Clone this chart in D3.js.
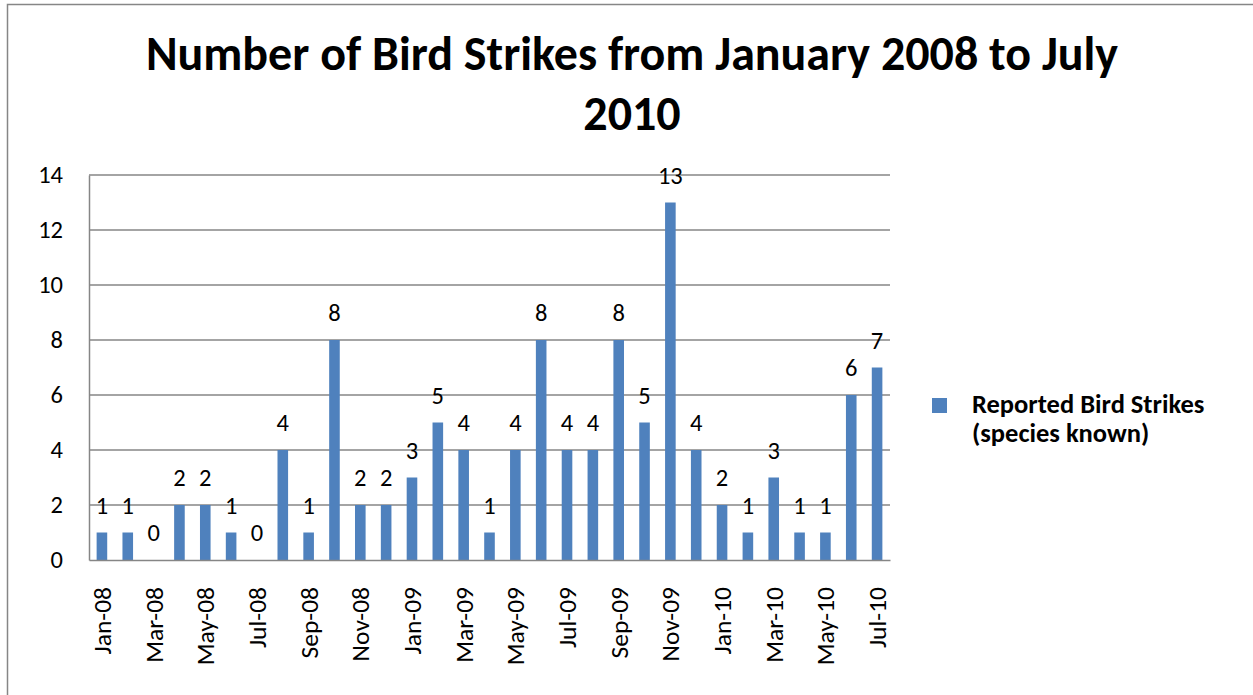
<!DOCTYPE html>
<html>
<head>
<meta charset="utf-8">
<script src="https://cdn.jsdelivr.net/npm/d3@7"></script>
<style>
  body { margin: 0; background: #fff; }
  text { font-family: Calibri, Carlito, Lato, sans-serif; }
</style>
</head>
<body>
<div id="chart"></div>
<script>
var months = ["Jan-08","Feb-08","Mar-08","Apr-08","May-08","Jun-08","Jul-08","Aug-08","Sep-08","Oct-08","Nov-08","Dec-08",
  "Jan-09","Feb-09","Mar-09","Apr-09","May-09","Jun-09","Jul-09","Aug-09","Sep-09","Oct-09","Nov-09","Dec-09",
  "Jan-10","Feb-10","Mar-10","Apr-10","May-10","Jun-10","Jul-10"];
var strikes = [1,1,0,2,2,1,0,4,1,8,2,2, 3,5,4,1,4,8,4,4,8,5,13,4, 2,1,3,1,1,6,7];
var yTicks = [0,2,4,6,8,10,12,14];
var titleLines = ["Number of Bird Strikes from January 2008 to July", "2010"];
var legendLines = ["Reported Bird Strikes", "(species known)"];

var width = 1253, height = 695;
var plotLeft = 89, plotRight = 890, plotTop = 175, plotBottom = 560;
var fontFam = 'Calibri, Carlito, Lato, sans-serif';
var svg = d3.select('#chart').append('svg').attr('width', width).attr('height', height);

// chart frame
svg.append('path')
  .attr('d', 'M7.5,700 V4.5 H1260')
  .attr('fill', 'none').attr('stroke', '#868686').attr('stroke-width', 1.5);

var x = d3.scaleBand().domain(months).range([plotLeft, plotRight]).paddingInner(0.59).paddingOuter(0.295);
var y = d3.scaleLinear().domain([0, 14]).range([plotBottom, plotTop]);

// gridlines
svg.append('g').selectAll('line').data(yTicks.slice(1)).enter().append('line')
  .attr('x1', plotLeft).attr('x2', plotRight)
  .attr('y1', function(d) { return y(d); }).attr('y2', function(d) { return y(d); })
  .attr('stroke', '#868686').attr('stroke-width', 1.5);

// y axis
var yAxis = svg.append('g').attr('transform', 'translate(' + plotLeft + ',0)')
  .call(d3.axisLeft(y).tickValues(yTicks).tickSize(0).tickPadding(26));
yAxis.select('.domain').attr('stroke', '#868686').attr('stroke-width', 1.5);
yAxis.selectAll('text').attr('font-size', 24.5).attr('fill', '#000').style('font-family', fontFam);

// bars
svg.append('g').selectAll('rect').data(strikes).enter().append('rect')
  .attr('x', function(d, i) { return x(months[i]); })
  .attr('y', function(d) { return y(d); })
  .attr('width', x.bandwidth())
  .attr('height', function(d) { return plotBottom - y(d); })
  .attr('fill', '#4F81BD');

// x axis, every second month labelled
var xAxis = svg.append('g').attr('transform', 'translate(0,' + plotBottom + ')')
  .call(d3.axisBottom(x).tickValues(months.filter(function(d, i) { return i % 2 == 0; })).tickSize(0));
xAxis.select('.domain').attr('stroke', '#868686').attr('stroke-width', 1.5);
xAxis.selectAll('text')
  .attr('font-size', 25.5).attr('fill', '#000')
  .style('font-family', fontFam)
  .attr('text-anchor', 'end')
  .attr('transform', 'rotate(-90)')
  .attr('x', -27).attr('y', 0).attr('dy', '0.35em');

// data labels
svg.append('g').selectAll('text').data(strikes).enter().append('text')
  .attr('x', function(d, i) { return x(months[i]) + x.bandwidth() / 2; })
  .attr('y', function(d) { return y(d) - 19; })
  .attr('text-anchor', 'middle')
  .attr('font-size', 24.5)
  .text(function(d) { return d; });

// title
svg.append('g').selectAll('text').data(titleLines).enter().append('text')
  .attr('x', 632).attr('y', function(d, i) { return 70 + i * 60; })
  .attr('text-anchor', 'middle')
  .attr('font-size', 48).attr('font-weight', 'bold')
  .text(function(d) { return d; });

// legend
svg.append('rect').attr('x', 932).attr('y', 398).attr('width', 15).attr('height', 15).attr('fill', '#4F81BD');
svg.append('g').selectAll('text').data(legendLines).enter().append('text')
  .attr('x', 972).attr('y', function(d, i) { return 413 + i * 29; })
  .attr('font-size', 26.5).attr('font-weight', 'bold')
  .text(function(d) { return d; });
</script>
</body>
</html>
